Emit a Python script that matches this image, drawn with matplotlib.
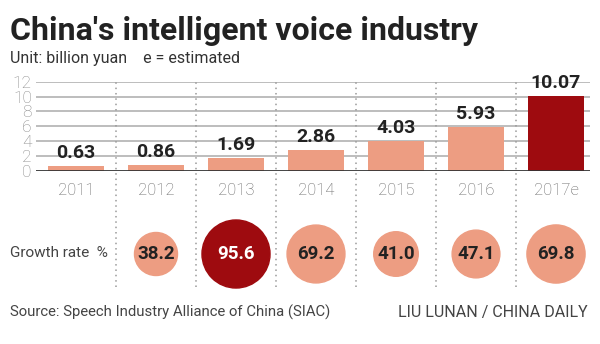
import matplotlib
matplotlib.use("Agg")
import matplotlib.pyplot as plt
from matplotlib.patches import Circle
import numpy as np

years = ["2011", "2012", "2013", "2014", "2015", "2016", "2017e"]
revenue = [0.63, 0.86, 1.69, 2.86, 4.03, 5.93, 10.07]
growth = [38.2, 95.6, 69.2, 41.0, 47.1, 69.8]
yticks = [0, 2, 4, 6, 8, 10, 12]

light = "#ED9D82"
dark = "#9E0B0F"
bold_font = ["Roboto", "DejaVu Sans"]

plt.rcParams["font.family"] = ["Roboto", "DejaVu Sans"]

W, H = 600, 344
fig = plt.figure(figsize=(W / 100, H / 100), dpi=100)

def fx(px):
    return px / W

def fy(py):
    return 1 - py / H

# bar panel: x -0.5..6.425 -> px 36..590, y 0..12 -> px 171..81.7
left, right = 36, 590
ax = fig.add_axes([fx(left), fy(171), fx(right - left), (171 - 81.7) / H])
ax.set_xlim(-0.5, 6.425)
ax.set_ylim(0, 12)
for s in ax.spines.values():
    s.set_visible(False)
ax.set_xticks([])
ax.set_yticks(yticks)
ax.set_yticklabels([str(t) for t in yticks], fontsize=12.5, color="#8a8a8a",
                   fontweight="light")
ax.tick_params(axis="y", length=0, pad=3)
for t in yticks[1:]:
    ax.axhline(t, color="#bdbdbd", lw=1.4, zorder=1)
ax.axhline(0, color="#333333", lw=2, zorder=3)

x = np.arange(len(years))
colors = [light] * (len(years) - 1) + [dark]
ax.bar(x, revenue, width=0.71, color=colors, zorder=2)
for xi, v in zip(x, revenue):
    ax.text(xi, v + 0.55, f"{v:.2f}", ha="center", va="bottom", fontsize=14,
            fontweight="bold", color="#222222", family=bold_font)
for xi, lab in zip(x, years):
    ax.text(xi, -2.6, lab, ha="center", va="center", fontsize=12,
            color="#666666", fontweight="light")

# dotted dividers
px_per_unit = (171 - 81.7) / 12
y_bottom = (171 - 287) / px_per_unit
ax.vlines(x[:-1] + 0.5, y_bottom, 12, colors="#9a9a9a", linestyles=(0, (1, 2.5)),
          lw=1.1, clip_on=False, zorder=1)

# growth circles row, equal aspect
ax2 = fig.add_axes([fx(left), fy(294), fx(right - left), 80 / H])
ax2.set_xlim(-0.5, 6.425)
ax2.set_ylim(-0.5, 0.5)
ax2.axis("off")
unit_px = (right - left) / 6.925
for i, g in enumerate(growth):
    xc = i + 1
    r = 6.96 * np.sqrt(g) / 2 / unit_px
    c = dark if g == max(growth) else light
    ax2.add_patch(Circle((xc, 0), r, color=c, clip_on=False, zorder=2))
    ax2.text(xc, 0, f"{g:.1f}", ha="center", va="center", fontsize=13.5,
             fontweight="bold", color="white" if c == dark else "#222222",
             family=bold_font, zorder=3)

fig.text(fx(10), fy(253), "Growth rate  %", ha="left", va="center",
         fontsize=11, color="#444444")

fig.text(fx(10), fy(40), "China's intelligent voice industry", ha="left",
         va="baseline", fontsize=23, fontweight="bold", color="#222222",
         family=bold_font)
fig.text(fx(10), fy(63), "Unit: billion yuan    e = estimated", ha="left",
         va="baseline", fontsize=11.5, color="#333333")
fig.text(fx(10), fy(317), "Source: Speech Industry Alliance of China (SIAC)",
         ha="left", va="baseline", fontsize=10.7, color="#444444")
fig.text(fx(588), fy(317), "LIU LUNAN / CHINA DAILY", ha="right",
         va="baseline", fontsize=11.5, color="#444444")

fig.savefig("out.png", dpi=100)
